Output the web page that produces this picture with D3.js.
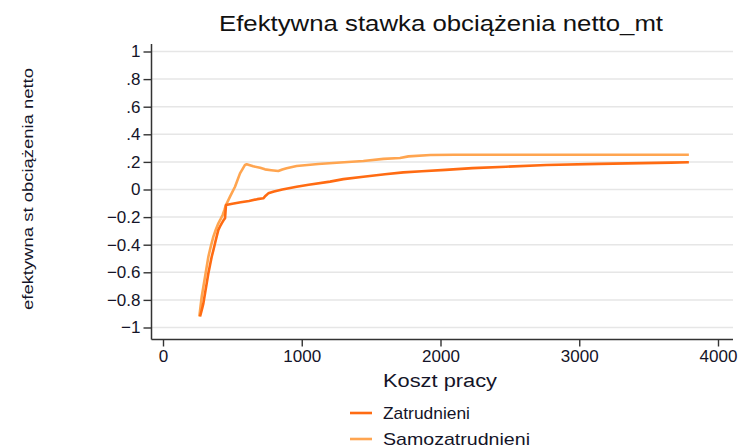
<!DOCTYPE html>
<html>
<head>
<meta charset="utf-8">
<script src="https://cdn.jsdelivr.net/npm/d3@7"></script>
<style>
  html, body { margin: 0; padding: 0; background: #fff; }
  svg { display: block; font-family: "Liberation Sans", Arial, sans-serif; }
</style>
</head>
<body>
<svg id="chart" width="745" height="448"></svg>
<script>
// Effective net tax rate by labour cost, employees vs self-employed
const titleText = "Efektywna stawka obciążenia netto_mt";
const xTitle = "Koszt pracy";
const yTitle = "efektywna st obciążenia netto";
const seriesNames = ["Zatrudnieni", "Samozatrudnieni"];

const xTicks = [0, 1000, 2000, 3000, 4000];
const yTicks = [-1, -0.8, -0.6, -0.4, -0.2, 0, 0.2, 0.4, 0.6, 0.8, 1];

// Zatrudnieni (employees)
const zatrX = [267, 280, 291, 303, 315, 327, 339, 351, 363, 375, 387, 399, 411, 423, 435, 447, 454,
  500, 560, 620, 680, 723, 740, 759, 800, 860, 963, 1050, 1204, 1300, 1444, 1600, 1732, 1866,
  2036, 2230, 2472, 2764, 3140, 3661, 3790];
const zatrY = [-0.92, -0.87, -0.825, -0.752, -0.68, -0.607, -0.547, -0.487, -0.44, -0.39, -0.34, -0.293,
  -0.268, -0.245, -0.225, -0.209, -0.112, -0.103, -0.093, -0.083, -0.07, -0.064, -0.045, -0.028,
  -0.015, 0.0, 0.02, 0.035, 0.057, 0.075, 0.093, 0.11, 0.124, 0.132, 0.142, 0.155, 0.165, 0.178,
  0.186, 0.195, 0.197];

// Samozatrudnieni (self-employed)
const samoX = [262, 279, 303, 327, 345, 363, 381, 399, 415, 430, 442, 454, 483, 519, 555, 591, 603,
  650, 700, 735, 780, 831, 860, 891, 963, 1119, 1251, 1444, 1589, 1708, 1769, 1927, 2100, 2500,
  3000, 3500, 3790];
const samoY = [-0.92, -0.777, -0.632, -0.487, -0.41, -0.342, -0.29, -0.245, -0.215, -0.185, -0.15,
  -0.112, -0.052, 0.02, 0.117, 0.178, 0.183, 0.168, 0.158, 0.146, 0.14, 0.134, 0.145, 0.154, 0.17,
  0.185, 0.194, 0.206, 0.222, 0.228, 0.24, 0.25, 0.252, 0.252, 0.252, 0.252, 0.252];

const colors = ["#ff6b12", "#ffa550"];
const textColor = "#141428";

const svg = d3.select("#chart");

// plot region
const region = { left: 151.5, right: 733, top: 44, bottom: 339.5 };
const x = d3.scaleLinear().domain([0, 4000]).range([163, 718]);
const y = d3.scaleLinear().domain([-1, 1]).range([327.5, 51.5]);

// horizontal grid
svg.append("g")
  .selectAll("line")
  .data(yTicks)
  .join("line")
  .attr("x1", region.left)
  .attr("x2", region.right)
  .attr("y1", d => y(d))
  .attr("y2", d => y(d))
  .attr("stroke", "#e6e6e6")
  .attr("stroke-width", 1.5);

// series lines
const series = [
  { name: seriesNames[0], xs: zatrX, ys: zatrY, color: colors[0] },
  { name: seriesNames[1], xs: samoX, ys: samoY, color: colors[1] }
];
const line = d3.line().x(d => x(d[0])).y(d => y(d[1]));
// self-employed drawn first so employees sit on top
[series[1], series[0]].forEach(s => {
  svg.append("path")
    .datum(s.xs.map((v, i) => [v, s.ys[i]]))
    .attr("fill", "none")
    .attr("stroke", s.color)
    .attr("stroke-width", 2.6)
    .attr("stroke-linejoin", "round")
    .attr("d", line);
});

// y axis
const fmtY = d => {
  if (Math.abs(d) < 1e-9) return "0";
  return d3.format(".1f")(d).replace(/^(-?)0\./, "$1.").replace(/\.0$/, "");
};
const yAxis = svg.append("g")
  .attr("transform", `translate(${region.left},0)`)
  .call(d3.axisLeft(y).tickValues(yTicks).tickFormat(fmtY).tickSize(8).tickPadding(3));
yAxis.select(".domain").remove();
yAxis.selectAll(".tick line").attr("stroke", "#333").attr("stroke-width", 1.4);
yAxis.selectAll(".tick text")
  .attr("font-size", 17).attr("fill", textColor)
  .attr("font-family", "Liberation Sans, Arial, sans-serif");

// x axis
const xAxis = svg.append("g")
  .attr("transform", `translate(0,${region.bottom})`)
  .call(d3.axisBottom(x).tickValues(xTicks).tickFormat(d3.format("d")).tickSize(7).tickPadding(3));
xAxis.select(".domain").remove();
xAxis.selectAll(".tick line").attr("stroke", "#333").attr("stroke-width", 1.4);
xAxis.selectAll(".tick text")
  .attr("font-size", 17).attr("fill", textColor)
  .attr("font-family", "Liberation Sans, Arial, sans-serif");

// axis lines
svg.append("line")
  .attr("x1", region.left).attr("x2", region.left)
  .attr("y1", region.top).attr("y2", region.bottom)
  .attr("stroke", "#333").attr("stroke-width", 1.5);
svg.append("line")
  .attr("x1", region.left).attr("x2", region.right)
  .attr("y1", region.bottom).attr("y2", region.bottom)
  .attr("stroke", "#333").attr("stroke-width", 1.5);

// titles
svg.append("text")
  .attr("x", 441).attr("y", 31)
  .attr("text-anchor", "middle")
  .attr("font-size", 22)
  .attr("textLength", 444)
  .attr("lengthAdjust", "spacingAndGlyphs")
  .attr("fill", "#111")
  .text(titleText);

svg.append("text")
  .attr("x", 440).attr("y", 387)
  .attr("text-anchor", "middle")
  .attr("font-size", 18)
  .attr("textLength", 114)
  .attr("lengthAdjust", "spacingAndGlyphs")
  .attr("fill", textColor)
  .text(xTitle);

svg.append("text")
  .attr("transform", "translate(33,189) rotate(-90)")
  .attr("text-anchor", "middle")
  .attr("font-size", 15)
  .attr("textLength", 242)
  .attr("lengthAdjust", "spacingAndGlyphs")
  .attr("fill", textColor)
  .text(yTitle);

// legend
const legendWidths = [87, 147];
const legend = svg.append("g");
series.forEach((s, i) => {
  const ly = 413 + i * 26;
  legend.append("line")
    .attr("x1", 350).attr("x2", 372)
    .attr("y1", ly).attr("y2", ly)
    .attr("stroke", s.color).attr("stroke-width", 2.6);
  legend.append("text")
    .attr("x", 383).attr("y", ly + 5.5)
    .attr("font-size", 17)
    .attr("textLength", legendWidths[i])
    .attr("lengthAdjust", "spacingAndGlyphs")
    .attr("fill", textColor)
    .text(s.name);
});
</script>
</body>
</html>
